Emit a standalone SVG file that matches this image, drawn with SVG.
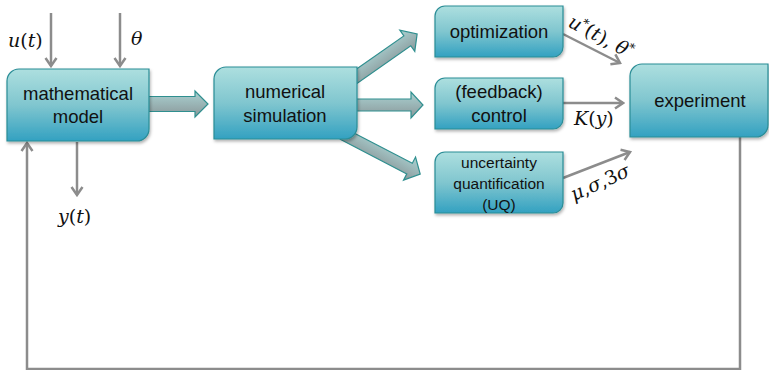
<svg xmlns="http://www.w3.org/2000/svg" width="769" height="370" viewBox="0 0 769 370">
<defs>
  <linearGradient id="boxGrad" x1="0" y1="0" x2="0" y2="1">
    <stop offset="0" stop-color="#addfdf"/>
    <stop offset="0.5" stop-color="#80c6cf"/>
    <stop offset="1" stop-color="#33a1c1"/>
  </linearGradient>
  <linearGradient id="arrGrad" x1="0" y1="0" x2="0" y2="1">
    <stop offset="0" stop-color="#aad2d2"/>
    <stop offset="1" stop-color="#8a9799"/>
  </linearGradient>
  <filter id="shadow" x="-10%" y="-10%" width="130%" height="140%">
    <feDropShadow dx="1" dy="2" stdDeviation="1.5" flood-color="#000" flood-opacity="0.3"/>
  </filter>
  <marker id="head" viewBox="-10 -7 12 14" markerWidth="12" markerHeight="14" refX="0" refY="0" orient="auto" markerUnits="userSpaceOnUse">
    <path d="M-8,-5.5 L0,0 L-8,5.5" fill="none" stroke="#8c8c8c" stroke-width="2.5"/>
  </marker>
  <style>
    .box { fill: url(#boxGrad); stroke: #2a8d96; stroke-width: 1.2; filter: url(#shadow); }
    .big { fill: url(#arrGrad); stroke: #2f8f8f; stroke-width: 1.2; }
    .thin { fill: none; stroke: #8c8c8c; stroke-width: 2.5; marker-end: url(#head); }
    .lbl { font-family: "Liberation Sans", Arial, sans-serif; font-size: 18.5px; fill: #111; text-anchor: middle; }
    .sm { font-size: 15.5px; }
    .math { font-family: "DejaVu Serif", "Liberation Serif", serif; font-size: 19px; fill: #111; }
    .it { font-style: italic; }
  </style>
</defs>
<rect width="769" height="370" fill="#fff"/>

<g id="connectors">
  <line class="thin" x1="51" y1="13" x2="51" y2="66"/>
  <line class="thin" x1="120" y1="13" x2="120" y2="66"/>
  <line class="thin" x1="77" y1="142" x2="77" y2="195"/>
  <path class="thin" d="M740,137 V369 H27 V143" stroke-width="3"/>
  <path class="big" transform="translate(147,104)" d="M0,-7.5 H48 V-13 L61,0 L48,13 V7.5 H0 Z"/>
  <path class="big" transform="translate(352,105)" d="M0,-6 H59 V-13 L71,0 L59,13 V6 H0 Z"/>
  <path class="big" transform="translate(350,81) rotate(-35.05)" d="M0,-6 H70 V-13 L82,0 L70,13 V6 H0 Z"/>
  <path class="big" transform="translate(343,134) rotate(27.45)" d="M0,-6 H75 V-13 L87,0 L75,13 V6 H0 Z"/>
  <line class="thin" x1="563" y1="34" x2="620" y2="63"/>
  <line class="thin" x1="563" y1="103" x2="623" y2="103"/>
  <line class="thin" x1="563" y1="178" x2="630" y2="152"/>
</g>

<g id="math-model">
  <path class="box" d="M19,69 H149 V129 A12,12 0 0 1 137,141 H7 V81 A12,12 0 0 1 19,69 Z"/>
  <text class="lbl" x="78" y="100">mathematical</text>
  <text class="lbl" x="78" y="123">model</text>
</g>

<g id="numerical-simulation">
  <path class="box" d="M226,67 H357 V127 A12,12 0 0 1 345,139 H214 V79 A12,12 0 0 1 226,67 Z"/>
  <text class="lbl" x="285" y="98">numerical</text>
  <text class="lbl" x="285" y="122">simulation</text>
</g>

<g id="optimization">
  <path class="box" d="M445,6 H563 V47 A10,10 0 0 1 553,57 H435 V16 A10,10 0 0 1 445,6 Z"/>
  <text class="lbl" x="499" y="38">optimization</text>
</g>

<g id="feedback-control">
  <path class="box" d="M445,78 H563 V119 A10,10 0 0 1 553,129 H435 V88 A10,10 0 0 1 445,78 Z"/>
  <text class="lbl" x="499" y="98">(feedback)</text>
  <text class="lbl" x="499" y="122">control</text>
</g>

<g id="uq">
  <path class="box" d="M445,152 H563 V203 A10,10 0 0 1 553,213 H435 V162 A10,10 0 0 1 445,152 Z"/>
  <text class="lbl sm" x="499" y="168">uncertainty</text>
  <text class="lbl sm" x="499" y="189">quantification</text>
  <text class="lbl sm" x="499" y="210">(UQ)</text>
</g>

<g id="experiment">
  <path class="box" d="M642,64 H768 V125 A12,12 0 0 1 756,137 H630 V76 A12,12 0 0 1 642,64 Z"/>
  <text class="lbl" x="700" y="107">experiment</text>
</g>

<g id="labels">
  <text class="math" x="8" y="47"><tspan class="it">u</tspan>(<tspan class="it">t</tspan>)</text>
  <text class="math it" x="131" y="45">θ</text>
  <text class="math" x="58" y="223"><tspan class="it">y</tspan>(<tspan class="it">t</tspan>)</text>
  <text class="math" x="574" y="125"><tspan class="it">K</tspan>(<tspan class="it">y</tspan>)</text>
  <text class="math" transform="translate(567,26) rotate(28)"><tspan class="it">u</tspan><tspan font-size="12" dy="-7">*</tspan><tspan dy="7">(</tspan><tspan class="it">t</tspan>), <tspan class="it">θ</tspan><tspan font-size="12" dy="-7">*</tspan></text>
  <text class="math" transform="translate(574,201) rotate(-24)"><tspan class="it">μ</tspan>,<tspan class="it">σ</tspan>,3<tspan class="it">σ</tspan></text>
</g>
</svg>
